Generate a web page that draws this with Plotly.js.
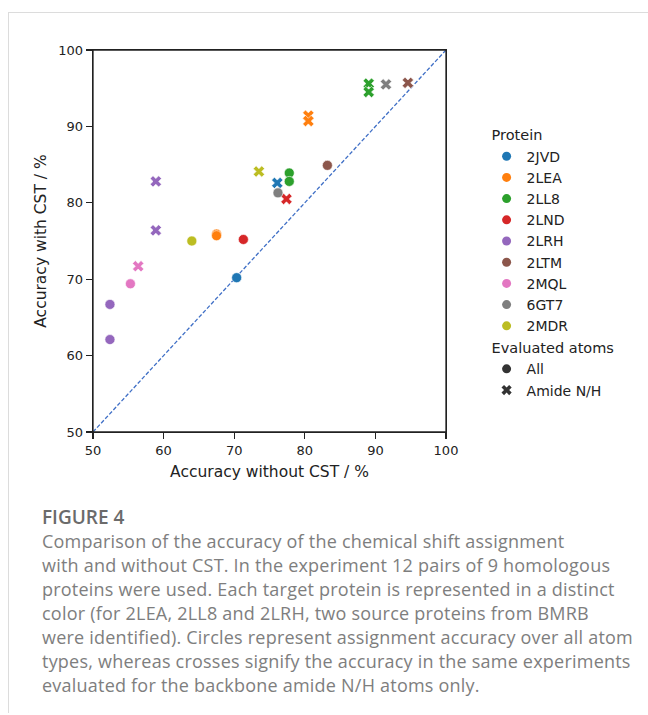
<!DOCTYPE html>
<html>
<head>
<meta charset="utf-8">
<script src="https://cdn.plot.ly/plotly-3.0.1.min.js"></script>
<style>
  html, body { margin: 0; padding: 0; background: #fff; width: 648px; height: 715px; overflow: hidden; }
  #frame { position: absolute; left: 8px; top: 12px; width: 660px; height: 700px; border-top: 1px solid #dcdcdc; border-left: 1px solid #dcdcdc; }
  #chart { position: absolute; left: 0; top: 0; width: 648px; height: 500px; }
  #figlabel { position: absolute; left: 42px; top: 504px; font-family: "Open Sans", sans-serif; font-size: 19px; font-weight: 600; color: #6b6b6b; }
  #caption { position: absolute; left: 42px; top: 529px; font-family: "Open Sans", sans-serif; font-size: 18px; letter-spacing: 0.22px; line-height: 24px; color: #7e7e7e; white-space: nowrap; }
</style>
</head>
<body>
<div id="frame"></div>
<div id="chart"></div>
<div id="figlabel">FIGURE 4</div>
<div id="caption">Comparison of the accuracy of the chemical shift assignment<br>with and without CST. In the experiment 12 pairs of 9 homologous<br>proteins were used. Each target protein is represented in a distinct<br>color (for 2LEA, 2LL8 and 2LRH, two source proteins from BMRB<br>were identified). Circles represent assignment accuracy over all atom<br>types, whereas crosses signify the accuracy in the same experiments<br>evaluated for the backbone amide N/H atoms only.</div>
<script>
// ---- data ----
const proteins = ['2JVD', '2LEA', '2LL8', '2LND', '2LRH', '2LTM', '2MQL', '6GT7', '2MDR'];
// one entry per experiment pair (12 pairs)
const pairProtein = ['2JVD', '2LEA', '2LEA', '2LL8', '2LL8', '2LND', '2LRH', '2LRH', '2LTM', '2MQL', '6GT7', '2MDR'];
// accuracy over all atoms
const allWithout = [70.35, 67.5, 67.5, 77.8, 77.8, 71.3, 52.4, 52.4, 83.2, 55.3, 76.2, 64.0];
const allWith    = [70.2, 75.9, 75.7, 83.9, 82.8, 75.2, 66.7, 62.1, 84.9, 69.4, 81.3, 75.0];
// accuracy for backbone amide N/H
const amideWithout = [76.1, 80.5, 80.5, 89.05, 89.05, 77.4, 58.9, 58.9, 94.6, 56.4, 91.5, 73.5];
const amideWith    = [82.6, 91.4, 90.7, 95.6, 94.5, 80.5, 82.8, 76.4, 95.7, 71.7, 95.5, 84.1];
const atomTypes = ['All', 'Amide N/H'];
const diagonal = [50, 100];
const tickVals = [50, 60, 70, 80, 90, 100];

// ---- style ----
const colors = ['#1f77b4', '#ff7f0e', '#2ca02c', '#d62728', '#9467bd', '#8c564b', '#e377c2', '#7f7f7f', '#bcbd22'];
const symbols = ['circle', 'x'];
const font = '"DejaVu Sans", sans-serif';

const traces = [];
traces.push({
  x: diagonal, y: diagonal, mode: 'lines', showlegend: false, hoverinfo: 'skip',
  line: { color: '#3f6fc6', width: 1.3, dash: '4px,2px' }
});
proteins.forEach((p, i) => {
  const idx = pairProtein.map((q, k) => q === p ? k : -1).filter(k => k >= 0);
  traces.push({
    x: idx.map(k => allWithout[k]), y: idx.map(k => allWith[k]),
    mode: 'markers', showlegend: false,
    marker: { color: colors[i], symbol: symbols[0], size: 10, line: { color: '#fff', width: 0.6 } }
  });
  traces.push({
    x: idx.map(k => amideWithout[k]), y: idx.map(k => amideWith[k]),
    mode: 'markers', showlegend: false,
    marker: { color: colors[i], symbol: symbols[1], size: 10, line: { color: '#fff', width: 0.6 } }
  });
});
// legend entries
proteins.forEach((p, i) => {
  traces.push({
    x: [null], y: [null], mode: 'markers', name: p, legendgroup: 'protein',
    legendgrouptitle: { text: 'Protein', font: { family: font, size: 14.5, color: '#222' } },
    marker: { color: colors[i], symbol: 'circle', size: 9 }
  });
});
atomTypes.forEach((a, i) => {
  traces.push({
    x: [null], y: [null], mode: 'markers', name: a, legendgroup: 'atoms',
    legendgrouptitle: { text: 'Evaluated atoms', font: { family: font, size: 14.5, color: '#222' } },
    marker: { color: '#333', symbol: symbols[i], size: 9 }
  });
});

const axisCommon = {
  range: [50, 100], tickvals: tickVals, ticks: 'outside', ticklen: 6, tickwidth: 1.2,
  tickcolor: '#222', showline: true, linecolor: '#222', linewidth: 1.3, mirror: true,
  showgrid: false, zeroline: false, tickfont: { family: font, size: 13, color: '#222' }
};

const layout = {
  width: 648, height: 500,
  margin: { l: 93, r: 202, t: 50, b: 68 },
  paper_bgcolor: 'rgba(0,0,0,0)', plot_bgcolor: '#fff',
  font: { family: font, color: '#222' },
  xaxis: Object.assign({}, axisCommon, {
    title: { text: 'Accuracy without CST / %', font: { family: font, size: 15.5, color: '#222' }, standoff: 9 }
  }),
  yaxis: Object.assign({}, axisCommon, {
    title: { text: 'Accuracy with CST / %', font: { family: font, size: 15.5, color: '#222' }, standoff: 7 }
  }),
  shapes: [{
    type: 'rect', xref: 'paper', yref: 'paper', x0: 0, x1: 1, y0: 0, y1: 1,
    line: { color: '#222', width: 1.3 }, fillcolor: 'rgba(0,0,0,0)', layer: 'above'
  }],
  legend: {
    x: 1.115, xanchor: 'left', y: 0.82, yanchor: 'top',
    font: { family: font, size: 14, color: '#222' },
    tracegroupgap: 0, bgcolor: 'rgba(0,0,0,0)', itemwidth: 30
  },
  showlegend: true
};

Plotly.newPlot('chart', traces, layout, { displayModeBar: false, staticPlot: true });
</script>
</body>
</html>
